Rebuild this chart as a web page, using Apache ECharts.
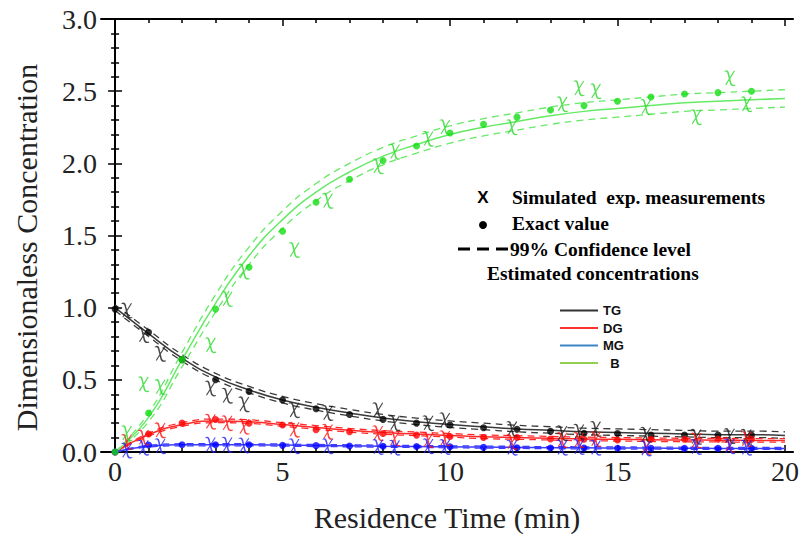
<!DOCTYPE html>
<html>
<head>
<meta charset="utf-8">
<script src="https://cdn.jsdelivr.net/npm/echarts@6/dist/echarts.min.js"></script>
<style>
  html, body { margin: 0; padding: 0; background: #fff; }
  #chart { width: 802px; height: 539px; }
</style>
</head>
<body>
<div id="chart"></div>
<script>
// fitted curves, sampled every minute
const estTime = [0, 1, 2, 3, 4, 5, 6, 7, 8, 9, 10, 11, 12, 13, 14, 15, 16, 17, 18, 19, 20];
const tgEst = [1.0, 0.82, 0.65, 0.52, 0.43, 0.36, 0.31, 0.27, 0.235, 0.21, 0.19, 0.175, 0.16, 0.15, 0.14, 0.135, 0.13, 0.125, 0.12, 0.12, 0.115];
const tgHigh = [1.02, 0.845, 0.675, 0.545, 0.455, 0.385, 0.335, 0.295, 0.26, 0.235, 0.215, 0.2, 0.185, 0.175, 0.165, 0.16, 0.155, 0.15, 0.145, 0.145, 0.14];
const tgLow = [0.98, 0.8, 0.63, 0.5, 0.41, 0.34, 0.29, 0.25, 0.215, 0.19, 0.17, 0.155, 0.14, 0.13, 0.12, 0.115, 0.11, 0.105, 0.1, 0.1, 0.095];
const dgEst = [0, 0.12, 0.19, 0.215, 0.21, 0.19, 0.17, 0.15, 0.135, 0.125, 0.115, 0.105, 0.1, 0.095, 0.09, 0.088, 0.085, 0.083, 0.082, 0.08, 0.08];
const dgHigh = [0, 0.13, 0.203, 0.228, 0.223, 0.203, 0.183, 0.163, 0.148, 0.138, 0.128, 0.118, 0.113, 0.108, 0.103, 0.1, 0.097, 0.095, 0.094, 0.092, 0.092];
const dgLow = [0, 0.11, 0.178, 0.203, 0.198, 0.178, 0.158, 0.138, 0.123, 0.113, 0.103, 0.093, 0.088, 0.083, 0.078, 0.076, 0.073, 0.071, 0.07, 0.068, 0.068];
const mgEst = [0, 0.04, 0.05, 0.05, 0.05, 0.048, 0.045, 0.043, 0.04, 0.038, 0.036, 0.034, 0.032, 0.03, 0.029, 0.028, 0.027, 0.026, 0.025, 0.025, 0.024];
const mgHigh = [0, 0.046, 0.057, 0.057, 0.057, 0.055, 0.052, 0.05, 0.047, 0.045, 0.043, 0.041, 0.039, 0.037, 0.036, 0.035, 0.034, 0.033, 0.032, 0.032, 0.031];
const mgLow = [0, 0.034, 0.043, 0.043, 0.043, 0.041, 0.038, 0.036, 0.033, 0.031, 0.029, 0.027, 0.025, 0.023, 0.022, 0.021, 0.02, 0.019, 0.018, 0.018, 0.017];
const bEst = [0, 0.24, 0.64, 1.03, 1.36, 1.61, 1.8, 1.94, 2.05, 2.13, 2.2, 2.25, 2.29, 2.33, 2.36, 2.38, 2.4, 2.42, 2.43, 2.44, 2.45];
const bHigh = [0, 0.27, 0.69, 1.09, 1.42, 1.67, 1.86, 2.0, 2.11, 2.19, 2.26, 2.31, 2.35, 2.39, 2.42, 2.44, 2.46, 2.48, 2.49, 2.5, 2.51];
const bLow = [0, 0.21, 0.59, 0.97, 1.3, 1.55, 1.74, 1.88, 1.99, 2.07, 2.14, 2.19, 2.23, 2.27, 2.3, 2.32, 2.34, 2.36, 2.37, 2.38, 2.39];

// exact values
const exactTime = [0, 1, 2, 3, 4, 5, 6, 7, 8, 9, 10, 11, 12, 13, 14, 15, 16, 17, 18, 19];
const tgExact = [0.99, 0.83, 0.64, 0.5, 0.42, 0.36, 0.3, 0.26, 0.226, 0.2, 0.187, 0.168, 0.157, 0.143, 0.13, 0.128, 0.117, 0.117, 0.117, 0.117];
const dgExact = [0, 0.125, 0.2, 0.225, 0.2, 0.187, 0.155, 0.14, 0.128, 0.117, 0.108, 0.1, 0.1, 0.09, 0.088, 0.083, 0.088, 0.088, 0.088, 0.088];
const mgExact = [0, 0.048, 0.05, 0.05, 0.05, 0.046, 0.044, 0.042, 0.04, 0.038, 0.036, 0.032, 0.03, 0.028, 0.027, 0.026, 0.025, 0.025, 0.025, 0.025];
const bExact = [0, 0.27, 0.64, 0.99, 1.28, 1.53, 1.73, 1.89, 2.02, 2.12, 2.21, 2.27, 2.32, 2.37, 2.4, 2.43, 2.46, 2.48, 2.49, 2.5];

// simulated measurements
const measTime = [0.35, 0.85, 1.35, 2.85, 3.35, 3.85, 5.35, 6.35, 7.85, 8.35, 9.35, 9.85, 11.85, 13.35, 13.85, 14.35, 15.85, 17.35, 18.35, 18.85];
const tgMeas = [0.98, 0.81, 0.68, 0.44, 0.39, 0.33, 0.29, 0.27, 0.29, 0.2, 0.2, 0.22, 0.16, 0.13, 0.14, 0.16, 0.12, 0.105, 0.11, 0.105];
const dgMeas = [0.07, 0.1, 0.15, 0.21, 0.2, 0.175, 0.155, 0.14, 0.13, 0.095, 0.083, 0.095, 0.07, 0.083, 0.083, 0.09, 0.035, 0.08, 0.05, 0.09];
const mgMeas = [0.01, 0.03, 0.04, 0.05, 0.05, 0.045, 0.04, 0.04, 0.035, 0.03, 0.04, 0.035, 0.03, 0.03, 0.035, 0.03, 0.025, 0.035, 0.04, 0.03];
const bMeas = [0.13, 0.47, 0.45, 0.74, 1.06, 1.25, 1.4, 1.74, 1.98, 2.08, 2.17, 2.25, 2.25, 2.41, 2.52, 2.5, 2.39, 2.32, 2.59, 2.41];

const xMajor = [0, 5, 10, 15, 20];
const xMinor = [1, 2, 3, 4, 6, 7, 8, 9, 11, 12, 13, 14, 16, 17, 18, 19];

const SERIF = '"Liberation Serif", "Times New Roman", serif';
const SANS = '"Liberation Sans", Arial, sans-serif';
// italic chi-like marker
const CHI = 'path://M1,3C4,0,7,1,8,5L12,24C13,27,15,28,18,27L18,29C14,31,11,29,10,26L6,7C5,4,4,3,1,4Z M16,2L17.5,3L4,28L2.5,27Z';

function pairs(xs, ys) {
    return xs.map((x, i) => [x, ys[i]]);
}

const species = [
    {name: 'TG', est: tgEst, hi: tgHigh, lo: tgLow, exact: tgExact, meas: tgMeas, line: '#3a3a3a', dot: '#000', mark: '#1a1a1a'},
    {name: 'DG', est: dgEst, hi: dgHigh, lo: dgLow, exact: dgExact, meas: dgMeas, line: '#ff2a2a', dot: '#ff0000', mark: '#ff1010'},
    {name: 'MG', est: mgEst, hi: mgHigh, lo: mgLow, exact: mgExact, meas: mgMeas, line: '#3b3bff', dot: '#0000ff', mark: '#2020ff'},
    {name: 'B', est: bEst, hi: bHigh, lo: bLow, exact: bExact, meas: bMeas, line: '#66ea66', dot: '#11dd11', mark: '#2ad82a'}
];

const series = [];
species.forEach(s => {
    series.push({
        name: s.name, type: 'line', smooth: true, showSymbol: false, silent: true, z: 2,
        data: pairs(estTime, s.est), lineStyle: {color: s.line, width: 1.5}, itemStyle: {color: s.line}
    });
    [s.hi, s.lo].forEach(band => {
        series.push({
            name: s.name, type: 'line', smooth: true, showSymbol: false, silent: true, z: 2,
            data: pairs(estTime, band), lineStyle: {color: s.line, width: 1.3, type: [7, 5]}, itemStyle: {color: s.line}
        });
    });
});
species.forEach(s => {
    series.push({
        name: s.name, type: 'scatter', symbol: 'circle', symbolSize: 7, z: 3,
        data: pairs(exactTime, s.exact), itemStyle: {color: s.dot}
    });
    series.push({
        name: s.name, type: 'scatter', symbol: CHI, symbolSize: [11, 16], z: 4,
        data: pairs(measTime, s.meas), itemStyle: {color: s.mark}
    });
});

const tickLabel = {fontFamily: SERIF, fontSize: 28, color: '#222'};

const chart = echarts.init(document.getElementById('chart'), null, {renderer: 'svg'});
chart.setOption({
    animation: false,
    backgroundColor: '#fff',
    grid: {left: 101, right: 7, top: 19, bottom: 87},
    xAxis: [
        {
            type: 'value', min: -0.42, max: 20.24, position: 'bottom',
            name: 'Residence Time (min)', nameLocation: 'middle', nameGap: 50,
            nameTextStyle: {fontFamily: SERIF, fontSize: 30, color: '#222'},
            axisLine: {lineStyle: {color: '#000', width: 2}},
            axisTick: {inside: true, length: 7, customValues: xMajor, lineStyle: {color: '#000', width: 1.5}},
            axisLabel: Object.assign({customValues: xMajor, margin: 5}, tickLabel),
            splitLine: {show: false}
        },
        {
            type: 'value', min: -0.42, max: 20.24, position: 'bottom',
            axisLine: {show: false},
            axisTick: {inside: true, length: 4, customValues: xMinor, lineStyle: {color: '#000', width: 1.5}},
            axisLabel: {show: false}, splitLine: {show: false}
        },
        {
            type: 'value', min: -0.42, max: 20.24, position: 'top',
            axisLine: {lineStyle: {color: '#000', width: 2}},
            axisTick: {inside: true, length: 7, customValues: xMajor, lineStyle: {color: '#000', width: 1.5}},
            axisLabel: {show: false}, splitLine: {show: false}
        },
        {
            type: 'value', min: -0.42, max: 20.24, position: 'top',
            axisLine: {show: false},
            axisTick: {inside: true, length: 4, customValues: xMinor, lineStyle: {color: '#000', width: 1.5}},
            axisLabel: {show: false}, splitLine: {show: false}
        }
    ],
    yAxis: [
        {
            type: 'value', min: 0, max: 3, interval: 0.5, position: 'left',
            name: 'Dimensionaless Concentration', nameLocation: 'middle', nameGap: 60, nameRotate: 90,
            nameTextStyle: {fontFamily: SERIF, fontSize: 30, color: '#222', padding: [0, 24, 0, 0]},
            axisLine: {show: true, lineStyle: {color: '#000', width: 2}},
            axisTick: {inside: true, length: 7, lineStyle: {color: '#000', width: 1.5}},
            minorTick: {show: true, splitNumber: 5, length: 4, lineStyle: {color: '#000', width: 1.5}},
            axisLabel: Object.assign({margin: 4, formatter: v => v.toFixed(1)}, tickLabel),
            splitLine: {show: false}
        },
        {
            type: 'value', min: 0, max: 3, interval: 0.5, position: 'right',
            axisLine: {show: true, lineStyle: {color: '#000', width: 2}},
            axisTick: {inside: true, length: 7, lineStyle: {color: '#000', width: 1.5}},
            minorTick: {show: true, splitNumber: 5, length: 4, lineStyle: {color: '#000', width: 1.5}},
            axisLabel: {show: false}, splitLine: {show: false}
        }
    ],
    legend: {
        orient: 'vertical', left: 555, top: 299, itemWidth: 38, itemHeight: 2, itemGap: 4.5,
        icon: 'rect', selectedMode: false,
        formatter: name => name === 'B' ? '  B' : name,
        textStyle: {fontFamily: SANS, fontWeight: 'bold', fontSize: 13, color: '#111'},
        data: [
            {name: 'TG', itemStyle: {color: '#333'}},
            {name: 'DG', itemStyle: {color: '#ff3030'}},
            {name: 'MG', itemStyle: {color: '#3d85c6'}},
            {name: 'B', itemStyle: {color: '#92d050'}}
        ]
    },
    graphic: [
        {type: 'text', x: 483, y: 197, style: {text: 'X', fontFamily: SANS, fontWeight: 'bold', fontSize: 17, fill: '#000', align: 'center', verticalAlign: 'middle'}},
        {type: 'text', x: 512, y: 197, style: {text: 'Simulated  exp. measurements', fontFamily: SERIF, fontWeight: 'bold', fontSize: 19.5, fill: '#000', verticalAlign: 'middle'}},
        {type: 'circle', shape: {cx: 483, cy: 225, r: 4}, style: {fill: '#000'}},
        {type: 'text', x: 512, y: 223, style: {text: 'Exact value', fontFamily: SERIF, fontWeight: 'bold', fontSize: 19.5, fill: '#000', verticalAlign: 'middle'}},
        {type: 'line', shape: {x1: 458, y1: 249, x2: 508, y2: 249}, style: {stroke: '#000', lineWidth: 3, lineDash: [12, 7]}},
        {type: 'text', x: 510, y: 249, style: {text: '99% Confidence level', fontFamily: SERIF, fontWeight: 'bold', fontSize: 19.5, fill: '#000', verticalAlign: 'middle'}},
        {type: 'text', x: 487, y: 273, style: {text: 'Estimated concentrations', fontFamily: SERIF, fontWeight: 'bold', fontSize: 19.5, fill: '#000', verticalAlign: 'middle'}}
    ],
    series: series
});
</script>
</body>
</html>
